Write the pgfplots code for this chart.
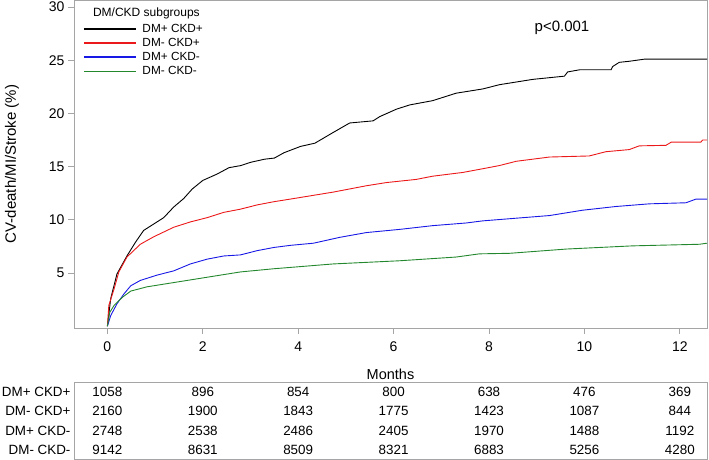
\documentclass[border=0pt]{standalone}
\usepackage{fontspec}
\setmainfont{Liberation Sans}
\usepackage{pgfplots}
\pgfplotsset{compat=1.18}
\usepackage{pgfplotstable}
\definecolor{framegray}{RGB}{165,165,165}
\definecolor{kmred}{RGB}{235,25,25}
\definecolor{kmblue}{RGB}{25,25,230}
\definecolor{kmgreen}{RGB}{35,135,45}

\pgfplotstableread{
x y
0 0
0.07 2.6
0.2 4.9
0.41 6.6
0.59 7.9
0.76 9.0
0.97 9.6
1.18 10.2
1.39 11.2
1.6 12.0
1.78 12.9
2.0 13.7
2.3 14.3
2.55 14.9
2.8 15.1
3.0 15.4
3.3 15.7
3.5 15.8
3.7 16.3
4.05 16.9
4.35 17.2
4.73 18.2
5.08 19.1
5.57 19.3
5.71 19.7
6.06 20.4
6.34 20.8
6.82 21.2
7.10 21.6
7.31 21.9
7.87 22.3
8.22 22.7
8.57 22.95
8.92 23.2
9.58 23.5
9.65 23.9
9.90 24.1
10.56 24.1
10.59 24.4
10.73 24.8
10.94 24.9
11.26 25.1
12.57 25.1
}\dmckd

\pgfplotstableread{
x y
0 0
0.03 1.95
0.14 3.5
0.24 5.1
0.41 6.5
0.69 7.7
0.97 8.4
1.39 9.3
1.74 9.8
2.09 10.2
2.44 10.7
2.79 11.0
3.14 11.4
3.49 11.7
3.84 11.95
4.32 12.3
4.73 12.6
5.43 13.2
5.85 13.5
6.48 13.8
6.82 14.1
7.45 14.45
7.87 14.8
8.22 15.1
8.57 15.5
9.27 15.9
10.1 16.0
10.45 16.4
10.94 16.6
11.15 16.95
11.71 17.0
11.82 17.3
12.44 17.3
12.48 17.5
12.57 17.5
}\nodmckd

\pgfplotstableread{
x y
0 0
0.07 1.0
0.2 2.1
0.35 3.05
0.49 3.8
0.69 4.3
1.04 4.8
1.39 5.2
1.74 5.85
2.09 6.3
2.44 6.6
2.79 6.7
3.14 7.1
3.49 7.4
3.84 7.6
4.32 7.8
4.87 8.35
5.43 8.8
6.13 9.1
6.82 9.45
7.52 9.7
7.87 9.9
8.43 10.1
9.27 10.4
9.96 10.9
10.66 11.25
11.36 11.5
12.13 11.6
12.34 11.95
12.57 11.95
}\dmnockd

\pgfplotstableread{
x y
0 0
0.05 1.3
0.14 1.95
0.31 2.7
0.49 3.3
0.83 3.7
1.39 4.1
2.09 4.6
2.79 5.1
3.49 5.4
4.32 5.7
4.73 5.85
6.13 6.15
7.31 6.5
7.80 6.8
8.43 6.85
9.62 7.25
11.01 7.55
12.41 7.7
12.57 7.8
}\nodmnockd

\pgfplotstableread{
x y n
0 1 1058
2 1 896
4 1 854
6 1 800
8 1 638
10 1 476
12 1 369
0 2 2160
2 2 1900
4 2 1843
6 2 1775
8 2 1423
10 2 1087
12 2 844
0 3 2748
2 3 2538
4 3 2486
6 3 2405
8 3 1970
10 3 1488
12 3 1192
0 4 9142
2 4 8631
4 4 8509
6 4 8321
8 4 6883
10 4 5256
12 4 4280
}\risk

\begin{document}
\begin{tikzpicture}
\useasboundingbox (0pt,0pt) rectangle (709pt,460pt);
\begin{axis}[
  at={(74pt,132pt)}, anchor=south west,
  scale only axis, width=633pt, height=328pt,
  xmin=-0.70, xmax=12.57, ymin=-0.17, ymax=30.66,
  xtick={0,2,...,12}, ytick={5,10,...,30},
  xtick pos=lower, ytick pos=left,
  axis line style={framegray, line width=0.8pt},
  tick style={framegray, line width=0.8pt},
  tick align=outside, major tick length=6pt,
  tick label style={font=\fontsize{14}{16}\selectfont},
  xticklabel style={yshift=-4pt},
  /pgf/number format/assume math mode=true,
  xlabel={Months},
  xlabel style={at={(axis description cs:0.5,-0.14)}, anchor=center, font=\fontsize{14.5}{16}\selectfont},
  ylabel={CV-death/MI/Stroke (\%)},
  ylabel style={at={(axis description cs:-0.098,0.5)}, anchor=center, font=\fontsize{15}{17}\selectfont},
  legend style={at={(0.0142,0.933)}, anchor=north west, draw=none, fill=none,
    font=\fontsize{11.8}{13}\selectfont, inner sep=0pt, row sep=0.3pt,
    nodes={inner sep=2pt},
    /tikz/every odd column/.append style={column sep=4pt}},
  legend cell align=left,
  legend image code/.code={\draw[#1, line width=1.3pt] (0pt,0pt) -- (52pt,0pt);},
]
\addplot[black, line width=0.9pt] table[x=x,y=y] {\dmckd};
\addlegendentry{DM+ CKD+}
\addplot[kmred, line width=0.9pt] table[x=x,y=y] {\nodmckd};
\addlegendentry{DM- CKD+}
\addplot[kmblue, line width=0.9pt] table[x=x,y=y] {\dmnockd};
\addlegendentry{DM+ CKD-}
\addplot[kmgreen, line width=0.9pt] table[x=x,y=y] {\nodmnockd};
\addlegendentry{DM- CKD-}
\node[anchor=west, font=\fontsize{12}{14}\selectfont] at (rel axis cs:0.0245,0.958) {DM/CKD subgroups};
\node[font=\fontsize{15}{17}\selectfont] at (axis cs:9.53,28.0) {p<0.001};
\end{axis}

\begin{axis}[
  at={(74pt,1pt)}, anchor=south west,
  scale only axis, width=633pt, height=77pt,
  xmin=-0.70, xmax=12.57, ymin=0.48, ymax=4.47, y dir=reverse,
  xtick=\empty, ytick={1,2,3,4},
  yticklabels={DM+ CKD+, DM- CKD+, DM+ CKD-, DM- CKD-},
  major tick length=0pt,
  axis line style={framegray, line width=0.8pt},
  tick style={draw=none},
  yticklabel style={font=\fontsize{13.4}{15}\selectfont},
]
\addplot[draw=none, mark=none, nodes near coords, point meta=explicit symbolic,
  every node near coord/.style={anchor=center, text=black, font=\fontsize{13.4}{15}\selectfont}]
  table[x=x, y=y, meta=n] {\risk};
\end{axis}
\end{tikzpicture}
\end{document}
